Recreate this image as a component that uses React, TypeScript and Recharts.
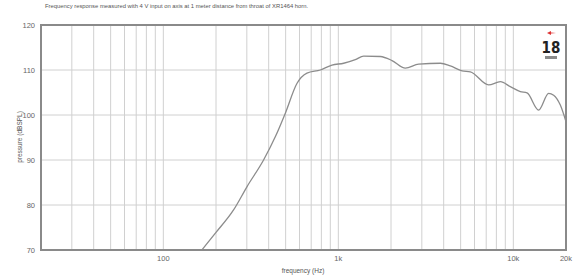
import React from 'react';
import { LineChart, Line, XAxis, YAxis, CartesianGrid, ReferenceArea } from 'recharts';

const frequencies = [166, 200, 252, 301, 374, 437, 498, 580, 662, 789, 920, 1073, 1250, 1396, 1738, 2027, 2416, 2878, 3829, 4365, 5093, 5680, 7226, 8433, 9610, 10970, 11980, 13950, 15920, 17000, 18560, 20000];
const pressure = [70, 73.9, 78.9, 84.1, 90, 95.2, 100.4, 107, 109.3, 110, 111.1, 111.5, 112.3, 113.1, 113, 112.1, 110.4, 111.3, 111.5, 110.9, 109.8, 109.6, 106.7, 107.4, 106.3, 105.2, 104.9, 101.1, 104.8, 104.4, 102.2, 98.5];

const xGridTicks = [20, 30, 40, 50, 60, 70, 80, 90, 100, 200, 300, 400, 500, 600, 700, 800, 900, 1000, 2000, 3000, 4000, 5000, 6000, 7000, 8000, 9000, 10000, 20000];
const xLabels: Record<number, string> = { 100: '100', 1000: '1k', 10000: '10k', 20000: '20k' };
const yTicks = [70, 80, 90, 100, 110, 120];

const title = 'Frequency response measured with 4 V input on axis at 1 meter distance from throat of XR1464 horn.';
const xTitle = 'frequency (Hz)';
const yTitle = 'pressure (dBSPL)';

const data = frequencies.map((f, i) => ({ f, spl: pressure[i] }));

const font = '"Liberation Sans", "DejaVu Sans", sans-serif';

export default function App() {
  return (
    <div style={{ position: 'absolute', left: 0, top: 0, width: 574, height: 276, background: '#fff' }}>
      <LineChart width={574} height={276} data={data} margin={{ top: 25, right: 8, bottom: 0, left: 0 }}>
        <CartesianGrid stroke="#d0d0d0" strokeWidth={1} />
        <XAxis
          dataKey="f"
          type="number"
          scale="log"
          domain={[20, 20000]}
          ticks={xGridTicks}
          interval={0}
          tickFormatter={(v: number) => xLabels[v] ?? ''}
          tickLine={false}
          tickSize={4}
          tickMargin={2}
          height={26}
          axisLine={{ stroke: '#8a8a8a', strokeWidth: 2 }}
          tick={{ fontSize: 7.5, fill: '#666', fontFamily: font }}
          allowDataOverflow
        />
        <YAxis
          type="number"
          domain={[70, 120]}
          ticks={yTicks}
          interval={0}
          width={41}
          tickLine={false}
          tickSize={4}
          tickMargin={2}
          axisLine={{ stroke: '#8a8a8a', strokeWidth: 2 }}
          tick={{ fontSize: 7.5, fill: '#666', fontFamily: font }}
          allowDataOverflow
        />
        <ReferenceArea x1={20} x2={20000} y1={70} y2={120} fill="none" stroke="#8a8a8a" strokeWidth={2} ifOverflow="visible" />
        <Line type="monotone" dataKey="spl" stroke="#8c8c8c" strokeWidth={1.3} dot={false} isAnimationActive={false} />
      </LineChart>
      <svg width={574} height={276} style={{ position: 'absolute', left: 0, top: 0, pointerEvents: 'none' }}>
        <text x={45} y={8} fontSize={5.85} fill="#555" fontFamily={font}>{title}</text>
        <text x={303} y={273} fontSize={6.5} fill="#555" fontFamily={font} textAnchor="middle">{xTitle}</text>
        <text x={22} y={137} fontSize={6.5} fill="#555" fontFamily={font} textAnchor="middle" transform="rotate(-90 22 137)">{yTitle}</text>
        <g>
          <polygon points="547,33 551,31 551,32.5 556,33 551,33.5 551,35" fill="#d33" />
          <text x={551} y={53} fontSize={15} fontWeight="bold" fill="#222" fontFamily='"DejaVu Sans Condensed", "Liberation Sans Narrow", sans-serif' textAnchor="middle">18</text>
          <rect x={545} y={56} width={12} height={3} fill="#8a8a8a" />
        </g>
      </svg>
    </div>
  );
}
